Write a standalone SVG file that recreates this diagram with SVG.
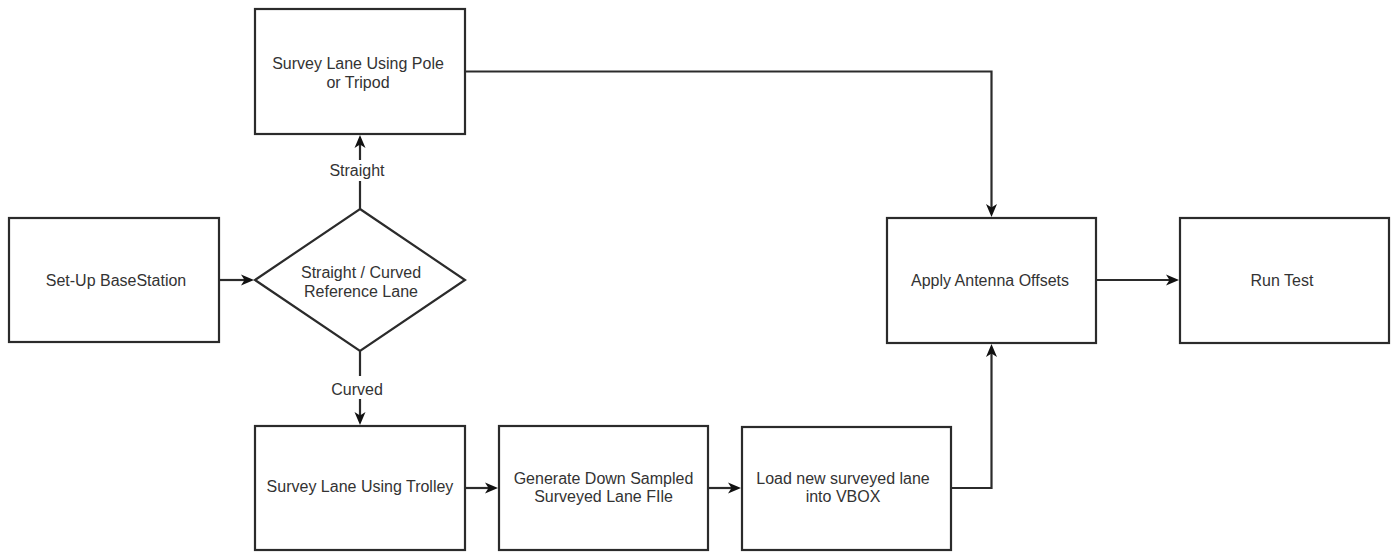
<svg xmlns="http://www.w3.org/2000/svg" width="1392" height="552" viewBox="0 0 1392 552">
<defs>
<style>
.box{fill:#ffffff;stroke:#2b2b2b;stroke-width:2.2}
.t{font-family:"Liberation Sans",Arial,sans-serif;font-size:16px;fill:#333333;text-anchor:middle}
.c{fill:none;stroke:#2b2b2b;stroke-width:2.2}
.lb{fill:#ffffff;stroke:none}
</style>
<marker id="arr" markerUnits="userSpaceOnUse" markerWidth="14" markerHeight="12" refX="7" refY="6" orient="auto">
<path d="M0,0.5 L13,6 L0,11.5 L3.5,6 z" fill="#111111"/>
</marker>
</defs>
<rect width="1392" height="552" fill="#ffffff"/>

<g id="connectors">
<line class="c" x1="219" y1="280" x2="248" y2="280" marker-end="url(#arr)"/>
<line class="c" x1="360" y1="209" x2="360" y2="141" marker-end="url(#arr)"/>
<line class="c" x1="360" y1="351" x2="360" y2="419" marker-end="url(#arr)"/>
<polyline class="c" points="465,71.5 991.5,71.5 991.5,211" marker-end="url(#arr)"/>
<line class="c" x1="465" y1="488" x2="492" y2="488" marker-end="url(#arr)"/>
<line class="c" x1="708" y1="488" x2="735" y2="488" marker-end="url(#arr)"/>
<polyline class="c" points="951,488 991.5,488 991.5,350" marker-end="url(#arr)"/>
<line class="c" x1="1096" y1="280" x2="1173" y2="280" marker-end="url(#arr)"/>
<g id="label-straight">
<rect class="lb" x="326" y="160" width="62" height="21"/>
<text class="t" x="357" y="176">Straight</text>
</g>
<g id="label-curved">
<rect class="lb" x="328" y="376" width="58" height="23"/>
<text class="t" x="357" y="395">Curved</text>
</g>
</g>

<g id="setup">
<rect class="box" x="9" y="218" width="210" height="124"/>
<text class="t" x="116" y="285.5">Set-Up BaseStation</text>
</g>

<g id="decision">
<polygon class="box" points="360,209 465,280 360,351 255,280"/>
<text class="t" x="361" y="277.5">Straight / Curved</text>
<text class="t" x="361" y="297">Reference Lane</text>
</g>

<g id="pole">
<rect class="box" x="255" y="9" width="210" height="125"/>
<text class="t" x="358" y="69">Survey Lane Using Pole</text>
<text class="t" x="358" y="88">or Tripod</text>
</g>

<g id="trolley">
<rect class="box" x="255" y="426" width="210" height="124"/>
<text class="t" x="360" y="492">Survey Lane Using Trolley</text>
</g>

<g id="generate">
<rect class="box" x="499" y="426" width="209" height="124"/>
<text class="t" x="603.5" y="483.5">Generate Down Sampled</text>
<text class="t" x="603.5" y="502">Surveyed Lane FIle</text>
</g>

<g id="load">
<rect class="box" x="742" y="427" width="209" height="123"/>
<text class="t" x="843" y="483.5">Load new surveyed lane</text>
<text class="t" x="843" y="502">into VBOX</text>
</g>

<g id="apply">
<rect class="box" x="887" y="218" width="209" height="125"/>
<text class="t" x="990" y="286">Apply Antenna Offsets</text>
</g>

<g id="runtest">
<rect class="box" x="1180" y="218" width="209" height="125"/>
<text class="t" x="1282" y="286">Run Test</text>
</g>
</svg>
